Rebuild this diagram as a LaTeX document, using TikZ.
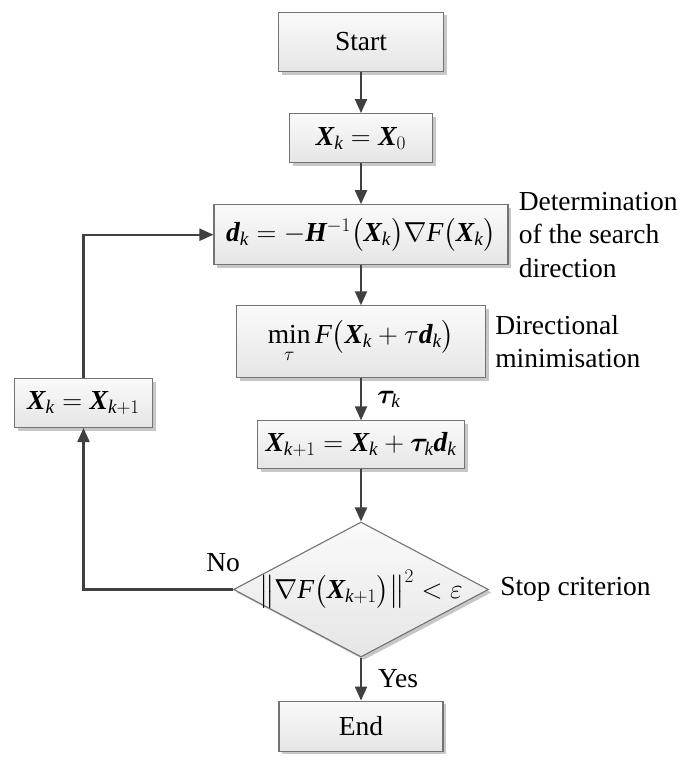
\RequirePackage{fix-cm}
\documentclass[tikz,border=0pt]{standalone}
\usepackage{amsmath}
\usepackage{amssymb}
\usepackage{bm}
\usepackage{fontspec}
\setmainfont{Liberation Serif}
\usetikzlibrary{positioning,shapes.geometric,shadows,arrows.meta}

\newcommand{\vX}{\text{\bfseries\itshape X}}
\newcommand{\vd}{\text{\bfseries\itshape d}}
\newcommand{\vH}{\text{\bfseries\itshape H}}
\newcommand{\vF}{\text{\itshape F}}
\newcommand{\ik}{\text{\itshape k}}

\begin{document}
\begin{tikzpicture}[x=1pt,y=-1pt,
  every node/.style={inner sep=0pt,font=\fontsize{27.5}{33.5}\selectfont},
  blk/.style={rectangle,draw=black!55,line width=1.1pt,top color=black!2,bottom color=black!10,
    drop shadow={shadow xshift=3pt,shadow yshift=-3pt,fill=black!22,opacity=1}},
  flow/.style={draw=black!75,line width=2.2pt,-{Triangle[length=14pt,width=12pt]}}]
\useasboundingbox (0,0) rectangle (693,760);
% main column
\node [blk,minimum width=165pt,minimum height=59pt] (start) at (361,42) {Start};
\node [blk,minimum width=143pt,minimum height=49pt,below=41pt of start] (init) {$\vX_{\ik}=\vX_{0}$};
\node [blk,minimum width=294pt,minimum height=60pt,below=41pt of init] (dir)
  {$\vd_{\ik}=-\vH^{-1}\bigl(\vX_{\ik}\bigr)\nabla\vF\bigl(\vX_{\ik}\bigr)$};
\node [blk,minimum width=249pt,minimum height=72pt,below=40pt of dir] (lmin)
  {$\mathop{\text{min}}\limits_{\tau}\vF\bigl(\vX_{\ik}+\tau\vd_{\ik}\bigr)$};
\node [blk,minimum width=207pt,minimum height=48pt,below=42pt of lmin] (upd)
  {$\vX_{\ik+1}=\vX_{\ik}+\bm{\tau}_{\ik}\vd_{\ik}$};
\node [diamond,draw=black!55,line width=1.1pt,top color=black!2,bottom color=black!10,
  drop shadow={shadow xshift=3pt,shadow yshift=-3pt,fill=black!22,opacity=1},
  minimum width=255pt,minimum height=135pt,below=52pt of upd] (chk) {};
\node (crit) at (chk.center) {$\bigl\|\nabla\vF\bigl(\vX_{\ik+1}\bigr)\bigr\|^{2}<\varepsilon$};
\node [blk,minimum width=164pt,minimum height=50pt,below=43pt of chk] (stop) {End};
% loop back
\node [blk,minimum width=138pt,minimum height=49pt] (back) at (83.5,403) {$\vX_{\ik}=\vX_{\ik+1}$};
% side notes
\node [right=10pt of dir,align=left] (dlab) {Determination\\of the search\\direction};
\node [right=9pt of lmin,align=left] (mlab) {Directional\\minimisation};
\node [right=11pt of chk] (slab) {Stop criterion};
% arrows
\draw [flow] (start) -- (init);
\draw [flow] (init) -- (dir);
\draw [flow] (dir) -- (lmin);
\draw [flow] (lmin) -- node [midway,right=15pt] {$\bm{\tau}_{\ik}$} (upd);
\draw [flow] (upd) -- (chk);
\draw [flow] (chk) -- node [midway,right=16pt] {Yes} (stop);
\draw [flow] (chk.west) -| node [pos=0.033,above=17pt] {No} (back.south);
\draw [flow] (back.north) |- (dir.west);
\end{tikzpicture}
\end{document}
